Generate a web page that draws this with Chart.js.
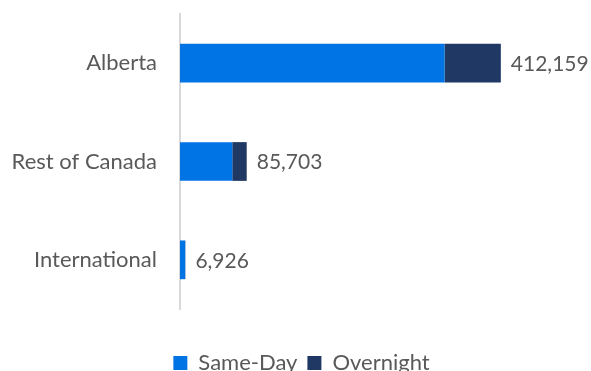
<!DOCTYPE html>
<html>
<head>
<meta charset="utf-8">
<script src="https://cdn.jsdelivr.net/npm/chart.js@4/dist/chart.umd.min.js"></script>
<style>
  html, body { margin: 0; padding: 0; background: #ffffff; }
  #wrap { width: 591px; height: 371px; }
</style>
</head>
<body>
<div id="wrap"><canvas id="c" width="591" height="371"></canvas></div>
<script>
// Visitor origin categories and trip-type splits
const categories = ['Alberta', 'Rest of Canada', 'International'];
const sameDay = [339800, 67150, 6600];
const overnight = [72359, 18553, 326];
const seriesNames = ['Same-Day', 'Overnight'];

const FONT = 'Lato';
const TEXT = '#595959';

// Draws the stacked total at the end of each bar
const totalLabels = {
  id: 'totalLabels',
  afterDatasetsDraw(chart) {
    const ctx = chart.ctx;
    const meta = chart.getDatasetMeta(chart.data.datasets.length - 1);
    ctx.save();
    ctx.font = '21px ' + FONT;
    ctx.fillStyle = TEXT;
    ctx.textAlign = 'left';
    ctx.textBaseline = 'middle';
    categories.forEach((c, i) => {
      const total = sameDay[i] + overnight[i];
      const bar = meta.data[i];
      ctx.fillText(total.toLocaleString('en-US'), bar.x + 10, bar.y + 1);
    });
    ctx.restore();
  }
};

// Nudges the legend a little to the right of the canvas centre
const legendShift = {
  id: 'legendShift',
  afterLayout(chart) {
    if (chart.legend) {
      chart.legend.left += 6;
      chart.legend.right += 6;
    }
  }
};

new Chart(document.getElementById('c'), {
  type: 'bar',
  data: {
    labels: categories,
    datasets: [
      { label: seriesNames[0], data: sameDay, backgroundColor: '#0074E4', borderWidth: 0 },
      { label: seriesNames[1], data: overnight, backgroundColor: '#1F3864', borderWidth: 0 }
    ]
  },
  options: {
    indexAxis: 'y',
    responsive: false,
    animation: false,
    layout: { padding: { top: 14, right: 0, bottom: -13, left: 0 } },
    datasets: { bar: { barPercentage: 0.394, categoryPercentage: 1 } },
    scales: {
      x: {
        stacked: true,
        min: 0,
        max: 528000,
        display: true,
        grid: { display: false, drawTicks: false },
        border: { display: false },
        ticks: { display: false },
        afterFit: s => { s.height = 33; s.paddingLeft = 0; s.paddingRight = 0; }
      },
      y: {
        stacked: true,
        grid: { display: false, drawTicks: false },
        border: { display: true, color: '#d9d9d9', width: 2 },
        ticks: { color: TEXT, font: { family: FONT, size: 22 }, padding: 23 },
        afterFit: s => { s.width = 180; s.paddingTop = 0; s.paddingBottom = 0; }
      }
    },
    plugins: {
      legend: {
        position: 'bottom',
        labels: {
          color: TEXT,
          font: { family: FONT, size: 22 },
          boxWidth: 14,
          boxHeight: 14,
          padding: 10
        }
      },
      tooltip: { enabled: false }
    }
  },
  plugins: [totalLabels, legendShift]
});
</script>
</body>
</html>
